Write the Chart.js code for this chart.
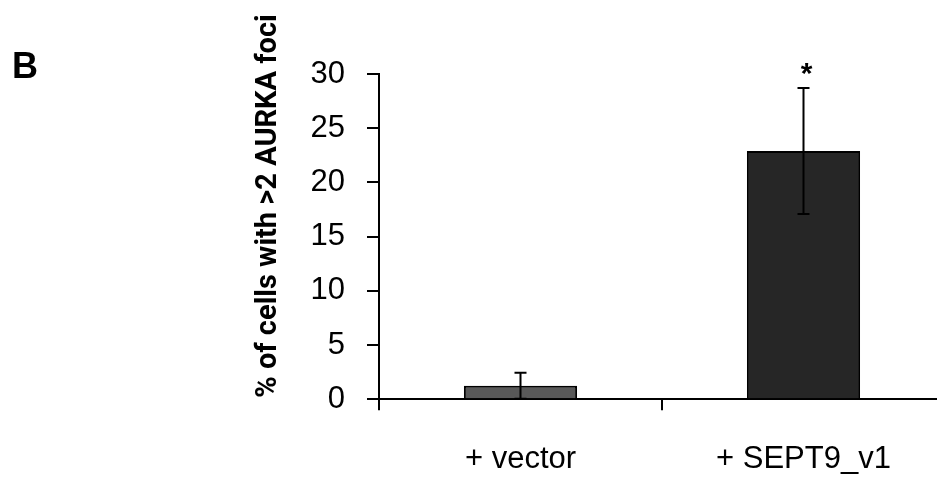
<!DOCTYPE html>
<html>
<head>
<meta charset="utf-8">
<script src="https://cdn.jsdelivr.net/npm/chart.js@4.4.1/dist/chart.umd.min.js"></script>
<style>
  html, body { margin: 0; padding: 0; background: #fff; overflow: hidden; }
  #wrap { position: relative; width: 950px; height: 477px; }
  #panel { position: absolute; left: 12px; top: 45px; font: bold 36px "Liberation Sans", Arial, sans-serif; color: #000; }
</style>
</head>
<body>
<div id="wrap">
  <div id="panel">B</div>
  <canvas id="foci" width="950" height="477"></canvas>
</div>
<script>
const categories = ['+ vector', '+ SEPT9_v1'];
const fociPercent = [1.25, 22.9];
const fociError = [1.2, 5.8];
const significance = ['', '*'];
const yTicks = [0, 5, 10, 15, 20, 25, 30];
const yTitle = '% of cells with >2 AURKA foci';

// error bars + significance marks
const errorBarPlugin = {
  id: 'errorBars',
  afterDatasetsDraw(chart) {
    const ctx = chart.ctx;
    const y = chart.scales.y;
    const meta = chart.getDatasetMeta(0);
    ctx.save();
    ctx.strokeStyle = '#000';
    ctx.lineWidth = 2;
    meta.data.forEach((bar, i) => {
      const top = y.getPixelForValue(fociPercent[i] + fociError[i]);
      const bot = y.getPixelForValue(Math.max(0, fociPercent[i] - fociError[i]));
      ctx.beginPath();
      ctx.moveTo(bar.x, top); ctx.lineTo(bar.x, bot);
      ctx.moveTo(bar.x - 6, top); ctx.lineTo(bar.x + 6, top);
      ctx.moveTo(bar.x - 6, bot); ctx.lineTo(bar.x + 6, bot);
      ctx.stroke();
      if (significance[i]) {
        ctx.fillStyle = '#000';
        ctx.font = 'bold 30px "Liberation Sans", Arial, sans-serif';
        ctx.textAlign = 'center';
        ctx.textBaseline = 'alphabetic';
        ctx.fillText(significance[i], bar.x + 3, top - 5);
      }
    });
    ctx.restore();
  }
};

// y title sits higher than the axis centre in the original
const yTitlePlugin = {
  id: 'yTitle',
  afterDraw(chart) {
    const ctx = chart.ctx;
    ctx.save();
    ctx.translate(269, 206);
    ctx.rotate(-Math.PI / 2);
    ctx.fillStyle = '#000';
    ctx.font = 'bold 29px Roboto, "Liberation Sans", sans-serif';
    ctx.textAlign = 'center';
    ctx.textBaseline = 'middle';
    ctx.fillText(yTitle, 0, 0);
    ctx.restore();
  }
};

new Chart('foci', {
  type: 'bar',
  data: {
    labels: categories,
    datasets: [{
      data: fociPercent,
      backgroundColor: ['#595959', '#262626'],
      borderColor: '#000',
      borderWidth: 2,
      barPercentage: 0.4,
      categoryPercentage: 1
    }]
  },
  options: {
    responsive: false,
    animation: false,
    layout: { padding: { left: 253, top: 74, right: 5, bottom: 0 } },
    plugins: { legend: { display: false }, tooltip: { enabled: false } },
    scales: {
      x: {
        afterFit: s => { s.height = 77.7; },
        grid: { drawOnChartArea: false, drawTicks: true, tickLength: 11, color: '#000', lineWidth: 2, offset: true },
        border: { display: true, color: '#000', width: 2 },
        ticks: { color: '#000', padding: 31, font: { family: '"Liberation Sans", Arial, sans-serif', size: 31 } }
      },
      y: {
        min: 0,
        max: 30,
        afterFit: s => { s.width = 126; },
        afterBuildTicks: s => { s.ticks = yTicks.map(v => ({ value: v })); },
        grid: { drawOnChartArea: false, drawTicks: true, tickLength: 12, color: '#000', lineWidth: 2 },
        border: { display: true, color: '#000', width: 2 },
        ticks: { color: '#000', padding: 22, font: { family: '"Liberation Sans", Arial, sans-serif', size: 31 } }
      }
    }
  },
  plugins: [errorBarPlugin, yTitlePlugin]
});
</script>
</body>
</html>
